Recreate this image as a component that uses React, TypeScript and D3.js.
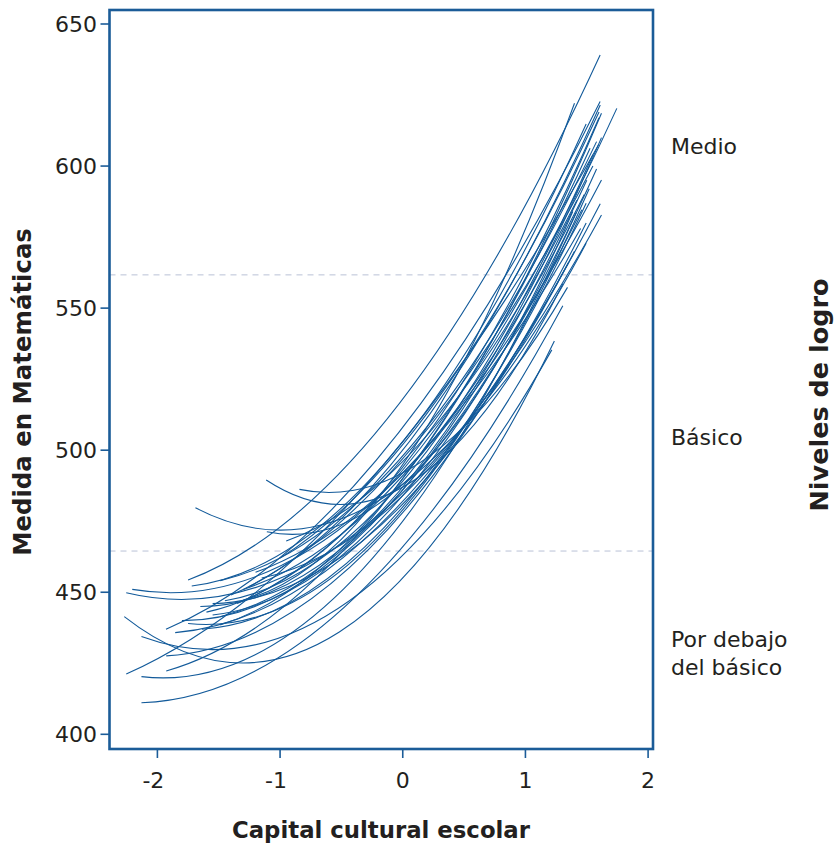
import React from "react";
import * as d3 from "d3";

// Quadratic fit curves, one per school: read start point, value at x = 0, end point
const startX = [-1.75, -1.93, -1.113, -1.69, -0.842, -1.108, -1.72, -2.205, -2.254, -1.488, -2.27, -2.13, -1.855, -1.637, -1.488, -1.488, -1.928, -2.254, -2.13, -1.928, -2.13, -1.3, -1.25, -1.0, -1.35, -1.6, -1.4, -1.8, -1.2, -1.55, -1.75, -1.45, -1.15, -1.65, -1.3, -0.95, -1.55];
const startY = [454.3, 437.0, 489.5, 479.7, 486.2, 471.3, 452.2, 451.0, 449.8, 454.1, 441.4, 434.4, 435.8, 437.0, 438.5, 441.4, 427.6, 421.2, 420.3, 422.3, 411.1, 447.3, 452.0, 462.0, 446.0, 443, 449, 440, 457, 446, 439, 447, 455, 445, 451, 468, 442];
const zeroY = [518, 508, 487, 488, 492, 488, 503, 492, 485, 498, 455, 463, 482, 480, 490, 486, 478, 503, 475, 490, 466, 495, 500, 502, 493, 494, 497, 486, 492, 481, 479, 489, 484, 487, 491, 496, 484];
const endX = [1.609, 1.609, 1.305, 1.495, 1.343, 1.386, 1.495, 1.62, 1.62, 1.58, 1.236, 1.215, 1.61, 1.495, 1.62, 1.46, 1.495, 1.595, 1.413, 1.527, 1.305, 1.4, 1.61, 1.6, 1.745, 1.6, 1.55, 1.5, 1.45, 1.4, 1.52, 1.55, 1.35, 1.62, 1.48, 1.42, 1.58];
const endY = [639.1, 622.7, 558.5, 572.8, 557.3, 584.0, 614.8, 595.1, 582.8, 608.6, 538.4, 535.3, 586.7, 586.9, 618.6, 584.6, 580.0, 607.4, 583.6, 606.3, 550.8, 622.1, 621.5, 619.0, 620.3, 617, 600, 595, 578, 570, 592, 604, 566, 610, 590, 588, 599];

const xTicks = [-2, -1, 0, 1, 2];
const yTicks = [400, 450, 500, 550, 600, 650];
const cutPoints = [464.5, 561.7];
const levelLabels = [
  { v: 607, lines: ["Medio"] },
  { v: 504.6, lines: ["Básico"] },
  { v: 428.3, lines: ["Por debajo", "del básico"] },
];

const FRAME = "#1b5c98";
const LINE = "#125a9a";
const TEXT = "#231f20";
const FONT = "DejaVu Sans, Verdana, sans-serif";

export default function App() {
  const x = d3.scaleLinear().domain([-2, 2]).range([157.4, 648.1]);
  const y = d3.scaleLinear().domain([400, 650]).range([734.3, 24]);
  const left = 109.5, right = 653, top = 10, bottom = 749;

  const paths = startX.map((x0, i) => {
    const v0 = startY[i], c = zeroY[i], x1 = endX[i], v1 = endY[i];
    const C = ((v1 - c) / x1 - (v0 - c) / x0) / (x1 - x0);
    const B = (v1 - c) / x1 - C * x1;
    const xm = (x0 + x1) / 2;
    const vm = c + B * xm + C * xm * xm;
    const ctrl = 2 * vm - (v0 + v1) / 2;
    const p = d3.path();
    p.moveTo(x(x0), y(v0));
    p.quadraticCurveTo(x(xm), y(ctrl), x(x1), y(v1));
    return p.toString();
  });

  return (
    <svg width={838} height={849} style={{ position: "absolute", left: 0, top: 0, background: "#fff" }} fontFamily={FONT}>
      {cutPoints.map((v) => (
        <line key={v} x1={left} x2={right} y1={y(v)} y2={y(v)} stroke="#b9c1d6" strokeWidth={1} strokeDasharray="6,5" />
      ))}
      {paths.map((d, i) => (
        <path key={i} d={d} fill="none" stroke={LINE} strokeWidth={1.1} />
      ))}
      <rect x={left} y={top} width={right - left} height={bottom - top} fill="none" stroke={FRAME} strokeWidth={2.6} />
      {yTicks.map((t) => (
        <g key={t}>
          <line x1={left - 9} x2={left} y1={y(t)} y2={y(t)} stroke={FRAME} strokeWidth={1.6} />
          <text x={97} y={y(t)} dy="0.36em" textAnchor="end" fontSize={22} fill={TEXT}>{t}</text>
        </g>
      ))}
      {xTicks.map((t) => (
        <g key={t}>
          <line x1={x(t)} x2={x(t)} y1={bottom} y2={bottom + 9} stroke={FRAME} strokeWidth={1.6} />
          <text x={x(t) - (t < 0 ? 4 : 0)} y={788} textAnchor="middle" fontSize={22} fill={TEXT}>{t}</text>
        </g>
      ))}
      {levelLabels.map((l) => (
        <text key={l.lines[0]} x={671} y={y(l.v)} fontSize={22} fill={TEXT}>
          {l.lines.map((s, j) => (
            <tspan key={j} x={671} dy={j === 0 ? (l.lines.length === 1 ? "0.36em" : "-0.3em") : "1.28em"}>{s}</tspan>
          ))}
        </text>
      ))}
      <text x={381} y={838} textAnchor="middle" fontSize={22.8} fontWeight="bold" fill={TEXT}>Capital cultural escolar</text>
      <text transform="translate(31,392) rotate(-90)" textAnchor="middle" fontSize={24.4} fontWeight="bold" fill={TEXT}>Medida en Matemáticas</text>
      <text transform="translate(828,395) rotate(-90)" textAnchor="middle" fontSize={25.5} fontWeight="bold" fill={TEXT}>Niveles de logro</text>
    </svg>
  );
}
